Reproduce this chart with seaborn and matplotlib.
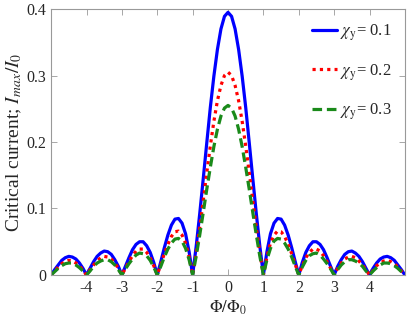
import numpy as np
import pandas as pd
import matplotlib
matplotlib.use('Agg')
import matplotlib.pyplot as plt
import seaborn as sns

# flux axis, sampled every 0.1 from -5 to 5
phi = np.linspace(-5, 5, 101)

# critical current (I_max / I_0)
chi_01 = [0, .008, .015, .022, .026, .028, .027, .024, .018, .010,
          0, .010, .020, .028, .033, .036, .035, .031, .023, .013,
          0, .013, .026, .038, .046, .050, .050, .044, .034, .019,
          0, .020, .041, .060, .075, .084, .085, .078, .062, .035,
          0, .043, .092, .145, .199, .252, .299, .339, .370, .389,
          .395,
          .389, .370, .339, .299, .252, .199, .145, .092, .043, 0,
          .035, .062, .078, .085, .084, .075, .060, .041, .020, 0,
          .019, .034, .044, .050, .050, .046, .038, .026, .013, 0,
          .013, .023, .031, .035, .036, .033, .028, .020, .010, 0,
          .010, .018, .024, .027, .028, .026, .022, .015, .008, 0]

chi_02 = [0, .006, .012, .017, .020, .022, .021, .018, .014, .007,
          0, .008, .015, .021, .026, .028, .027, .024, .018, .010,
          0, .010, .020, .029, .036, .039, .039, .034, .026, .014,
          0, .016, .032, .046, .058, .065, .066, .060, .048, .027,
          0, .033, .071, .112, .154, .194, .231, .262, .285, .300,
          .305,
          .300, .285, .262, .231, .194, .154, .112, .071, .033, 0,
          .027, .048, .060, .066, .065, .058, .046, .032, .016, 0,
          .014, .026, .034, .039, .039, .036, .029, .020, .010, 0,
          .010, .018, .024, .027, .028, .026, .021, .015, .008, 0,
          .007, .014, .018, .021, .022, .020, .017, .012, .006, 0]

chi_03 = [0, .005, .010, .014, .017, .018, .018, .015, .011, .006,
          0, .006, .013, .018, .021, .023, .023, .020, .015, .008,
          0, .009, .017, .024, .030, .033, .032, .029, .022, .012,
          0, .013, .027, .039, .048, .054, .055, .051, .040, .023,
          0, .028, .060, .094, .129, .162, .193, .219, .239, .251,
          .255,
          .251, .239, .219, .193, .162, .129, .094, .060, .028, 0,
          .023, .040, .051, .055, .054, .048, .039, .027, .013, 0,
          .012, .022, .029, .032, .033, .030, .024, .017, .009, 0,
          .008, .015, .020, .023, .023, .021, .018, .013, .006, 0,
          .006, .011, .015, .018, .018, .017, .014, .010, .005, 0]

etiquetas = [r'$\chi_{\rm y}$= 0.1', r'$\chi_{\rm y}$= 0.2', r'$\chi_{\rm y}$= 0.3']
x_ticks = [-4, -3, -2, -1, 0, 1, 2, 3, 4]
y_ticks = [0, 0.1, 0.2, 0.3, 0.4]

sns.set_style('ticks')
plt.rcParams['font.family'] = ['Liberation Serif', 'DejaVu Serif']
plt.rcParams['mathtext.fontset'] = 'stix'

fig = plt.figure(figsize=(4.09, 3.22), dpi=100)
ax = fig.add_axes([0.125, 0.146, 0.865, 0.826])

sns.lineplot(x=phi, y=chi_01, ax=ax, color='#0000ff', lw=2.3, label=etiquetas[0])
sns.lineplot(x=phi, y=chi_02, ax=ax, color='#ff0000', lw=2.3, linestyle=(0, (1, 1.3)), label=etiquetas[1])
sns.lineplot(x=phi, y=chi_03, ax=ax, color='#1a8a1a', lw=2.3, linestyle=(0, (3, 1.5)), label=etiquetas[2])

ax.set_xlim(-5, 5)
ax.set_ylim(0, 0.4)
ax.set_xticks(x_ticks)
ax.set_xticklabels([str(t) for t in x_ticks])
ax.set_yticks(y_ticks)
ax.set_yticklabels(['0', '0.1', '0.2', '0.3', '0.4'])
ax.tick_params(direction='in', top=True, right=True, length=4, width=0.6,
               colors='#262626', labelsize=11.5, color='#999999')
for s in ax.spines.values():
    s.set_color('#999999')
    s.set_linewidth(0.8)

ax.set_xlabel(r'$\Phi/\Phi_0$', fontsize=12, color='#262626', labelpad=2)
ax.set_ylabel(r'Critical current; $I_{max}/I_0$', fontsize=14, color='#262626', labelpad=2)

ax.legend(loc='upper right', frameon=False, fontsize=12, handlelength=1.5,
          handletextpad=0.15, labelspacing=1.15, borderaxespad=0.4)

fig.savefig('out.png', dpi=100)
